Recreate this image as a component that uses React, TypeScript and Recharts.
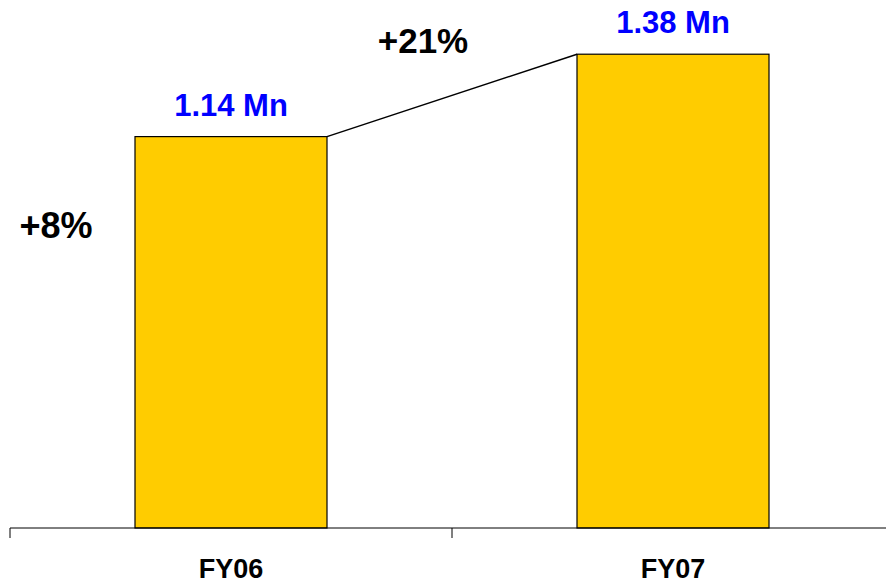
import React from 'react';
import { BarChart, Bar, XAxis, YAxis, LabelList } from 'recharts';

const categories = ['FY06', 'FY07'];
const values = [1.14, 1.38];
const valueLabels = ['1.14 Mn', '1.38 Mn'];
const growthLabels = ['+8%', '+21%'];

const data = categories.map((c, i) => ({ name: c, value: values[i], label: valueLabels[i] }));

const CHART_W = 900;
const CHART_H = 585;
const MARGIN = { top: 13, right: 6, left: 10, bottom: 0 };
const XAXIS_H = 57;
const BAND = (CHART_W - MARGIN.left - MARGIN.right) / categories.length;
const AXIS_Y = CHART_H - MARGIN.bottom - XAXIS_H;
const FONT = '"Liberation Sans", Arial, sans-serif';

const BarShape = (props: any) => {
  const { x, y, width, height, index, fill } = props;
  const els: any[] = [
    <rect key="r" x={x} y={y} width={width} height={height} fill={fill} stroke="#000" strokeWidth={1.2} />,
  ];
  if (index === 0) {
    els.push(
      <text key="g0" x={x - 79} y={y + 101} textAnchor="middle" fontFamily={FONT} fontWeight="bold" fontSize={36} fill="#000">
        {growthLabels[0]}
      </text>
    );
  }
  if (index > 0) {
    const prevH = (height * values[index - 1]) / values[index];
    const x1 = x - BAND + width;
    const y1 = y + height - prevH;
    const mx = (x1 + x) / 2;
    const my = (y1 + y) / 2;
    els.push(<line key="l" x1={x1} y1={y1} x2={x} y2={y} stroke="#000" strokeWidth={1.5} />);
    els.push(
      <text key="g" x={mx - 29} y={my - 42} textAnchor="middle" fontFamily={FONT} fontWeight="bold" fontSize={35} fill="#000">
        {growthLabels[index]}
      </text>
    );
  }
  return <g>{els}</g>;
};

const Tick = (props: any) => {
  const { x, payload } = props;
  return (
    <g>
      <line x1={x - BAND / 2} y1={AXIS_Y} x2={x - BAND / 2} y2={AXIS_Y + 10} stroke="#000" strokeWidth={1} />
      <text x={x} y={AXIS_Y + 50} textAnchor="middle" fontFamily={FONT} fontWeight="bold" fontSize={27} fill="#000">
        {payload.value}
      </text>
    </g>
  );
};

export default function App() {
  return (
    <div style={{ position: 'absolute', left: 0, top: 0, width: 886, height: 585, overflow: 'hidden', background: '#fff' }}>
      <BarChart width={CHART_W} height={CHART_H} data={data} margin={MARGIN}>
        <XAxis
          dataKey="name"
          height={XAXIS_H}
          axisLine={{ stroke: '#000', strokeWidth: 1 }}
          tickLine={false}
          tick={<Tick />}
          interval={0}
        />
        <YAxis hide domain={[0, 1.5]} />
        <Bar dataKey="value" fill="#FFCC00" barSize={192} shape={<BarShape />} isAnimationActive={false}>
          <LabelList
            dataKey="label"
            position="top"
            offset={21}
            fill="#0000FF"
            fontFamily={FONT}
            fontWeight="bold"
            fontSize={31}
          />
        </Bar>
      </BarChart>
    </div>
  );
}
